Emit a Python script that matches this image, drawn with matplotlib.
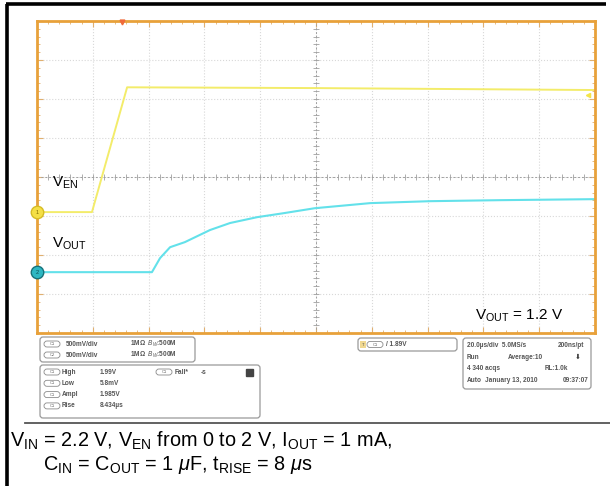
import matplotlib.pyplot as plt
import numpy as np
from matplotlib.patches import FancyBboxPatch

plt.rcParams['font.family'] = ['Liberation Sans', 'DejaVu Sans']
plt.rcParams['mathtext.fontset'] = 'custom'
plt.rcParams['mathtext.rm'] = 'Liberation Sans'
plt.rcParams['mathtext.it'] = 'Liberation Sans:italic'

# scope settings
time_div = 20.0      # us/div
volt_div = 0.5       # V/div
ch1_offset = 3.10    # div, V_EN ground level
ch2_offset = 1.56    # div, V_OUT ground level

# V_EN trace (us, V)
t_en = [0, 19.7, 32.3, 100, 200]
v_en = [0, 0, 1.60, 1.59, 1.565]

# V_OUT trace (us, V)
t_out = [0, 41.2, 44.1, 47.7, 53.0, 62.0, 69.2, 78.9, 88.2, 99.6, 119.4, 140.9, 166.0, 200]
v_out = [0, 0, 0.18, 0.32, 0.385, 0.54, 0.63, 0.705, 0.755, 0.82, 0.885, 0.91, 0.923, 0.936]

trigger_t = 30.5

W, H = 610, 486
fig = plt.figure(figsize=(W / 100, H / 100), dpi=100)

# -------------------------------
# scope screen
# -------------------------------
x0, x1, y0, y1 = 37, 595, 21, 333
ax = fig.add_axes([x0 / W, 1 - y1 / H, (x1 - x0) / W, (y1 - y0) / H])
ax.set_xlim(0, 10 * time_div)
ax.set_ylim(0, 8)
ax.set_xticks(np.arange(0, 201, time_div))
ax.set_yticks(np.arange(0, 9, 1))
ax.set_xticks(np.arange(0, 201, time_div / 5), minor=True)
ax.set_yticks(np.arange(0, 8.01, 0.2), minor=True)
ax.tick_params(which='both', direction='in', top=True, right=True,
               labelbottom=False, labelleft=False, color='#e0b070')
ax.tick_params(which='major', length=4, width=0.8)
ax.tick_params(which='minor', length=2.5, width=0.6)
ax.grid(True, which='major', linestyle=':', color='#d8d8d8', linewidth=0.8)
for s in ax.spines.values():
    s.set_color('#e8a13a')
    s.set_linewidth(2.0)

# center crosshair with tick marks
ax.axvline(100, color='#a0a0a0', linestyle=(0, (2, 2)), linewidth=0.7)
ax.axhline(4, color='#a0a0a0', linestyle=(0, (2, 2)), linewidth=0.7)
yt = np.arange(0, 8.01, 0.2)
ax.plot(np.full_like(yt, 100), yt, linestyle='none', marker='_', markersize=4,
        color='#a0a0a0', markeredgewidth=0.6)
xt = np.arange(0, 200.1, 4)
ax.plot(xt, np.full_like(xt, 4), linestyle='none', marker='|', markersize=4,
        color='#a0a0a0', markeredgewidth=0.6)

# traces
en_div = ch1_offset + np.array(v_en) / volt_div
out_div = ch2_offset + np.array(v_out) / volt_div
ax.plot(t_en, en_div, color='#f3ec6a', linewidth=1.4)
ax.plot(t_out, out_div, color='#63e1ea', linewidth=1.5)

# channel ground markers
ax.plot([0], [ch1_offset], marker='o', markersize=9, color='#f4df45',
        markeredgecolor='#d6bc25', clip_on=False, zorder=5)
ax.text(0, ch1_offset, '1', fontsize=4, ha='center', va='center', color='#7a6a00', zorder=6)
ax.plot([0], [ch2_offset], marker='o', markersize=9, color='#2db7c2',
        markeredgecolor='#17727a', clip_on=False, zorder=5)
ax.text(0, ch2_offset, '2', fontsize=4, ha='center', va='center', color='#0a4a50', zorder=6)
ax.plot([trigger_t], [7.97], marker='v', markersize=3.5, color='#f06a3a', clip_on=False, zorder=5)
ax.plot([197.5], [6.1], marker='<', markersize=3, color='#f3e44a', clip_on=False, zorder=5)

ax.text(5.5, 3.75, r'V$_{\rm EN}$', fontsize=11)
ax.text(5.5, 2.2, r'V$_{\rm OUT}$', fontsize=11)
ax.text(157, 0.35, r'V$_{\rm OUT}$ = 1.2 V', fontsize=11)

# -------------------------------
# readout panels and caption (pixel overlay)
# -------------------------------
ov = fig.add_axes([0, 0, 1, 1], facecolor='none')
ov.set_xlim(0, W)
ov.set_ylim(H, 0)
ov.axis('off')

# outer frame
ov.plot([7, 7], [4, H], color='black', linewidth=2.6, solid_capstyle='butt')
ov.plot([6, 606], [4, 4], color='black', linewidth=2.6, solid_capstyle='butt')
ov.plot([25, 610], [423, 423], color='#555555', linewidth=1.3)


def panel(xa, ya, xb, yb):
    ov.add_patch(FancyBboxPatch((xa, ya), xb - xa, yb - ya,
                                boxstyle='round,pad=0,rounding_size=3',
                                facecolor='white', edgecolor='#9a9a9a', linewidth=0.9))


def pill(x, y, label):
    ov.add_patch(FancyBboxPatch((x, y - 3), 16, 6,
                                boxstyle='round,pad=0,rounding_size=3',
                                facecolor='white', edgecolor='#8a8a8a', linewidth=0.6))
    ov.text(x + 8, y, label, fontsize=3, ha='center', va='center', color='#666666')


small = dict(fontsize=4.7, color='#555555', va='center', fontweight='bold')

panel(40, 337, 195, 362)
for yy, ch in [(344, 'C1'), (355, 'C2')]:
    pill(44, yy, ch)
    ov.text(66, yy, '500mV/div', **small)
    ov.text(130, yy, '1MΩ  $B_W$:500M', **small)

panel(40, 365, 260, 418)
rows = [('High', '1.99V'), ('Low', '5.8mV'), ('Ampl', '1.985V'), ('Rise', '8.434µs')]
for i, (name, val) in enumerate(rows):
    yy = 372 + i * 11.3
    pill(44, yy, 'C1')
    ov.text(62, yy, name, **small)
    ov.text(100, yy, val, **small)
pill(156, 372, 'C1')
ov.text(175, 372, 'Fall*', **small)
ov.text(201, 372, '-s', **small)
ov.add_patch(FancyBboxPatch((246, 368.5), 7, 7, boxstyle='square,pad=0',
                            facecolor='#444444', edgecolor='#444444'))

panel(358, 338, 457, 351)
ov.add_patch(FancyBboxPatch((360, 341), 6, 7, boxstyle='square,pad=0',
                            facecolor='#f0d890', edgecolor='none'))
ov.text(363, 344.5, 'T', fontsize=3, ha='center', va='center', color='#555555')
pill(367, 344.5, 'C1')
ov.text(386, 344.5, '/ 1.89V', **small)

panel(463, 338, 591, 389)
ov.text(467, 345, '20.0µs/div  5.0MS/s', **small)
ov.text(558, 345, '200ns/pt', **small)
ov.text(467, 357, 'Run', **small)
ov.text(508, 357, 'Average:10', **small)
ov.text(575, 357, '⬇', fontsize=5, color='#333333', va='center')
ov.text(467, 368.5, '4 340 acqs', **small)
ov.text(545, 368.5, 'RL:1.0k', **small)
ov.text(467, 380, 'Auto', **small)
ov.text(485, 380, 'January 13, 2010', **small)
ov.text(563, 380, '09:37:07', **small)

ov.text(10, 447, r'V$_{\rm IN}$ = 2.2 V, V$_{\rm EN}$ from 0 to 2 V, I$_{\rm OUT}$ = 1 mA,',
        fontsize=14.3, va='baseline')
ov.text(43, 470, r'C$_{\rm IN}$ = C$_{\rm OUT}$ = 1 $\mu$F, t$_{\rm RISE}$ = 8 $\mu$s',
        fontsize=14.3, va='baseline')

fig.savefig('out.png', dpi=100)
